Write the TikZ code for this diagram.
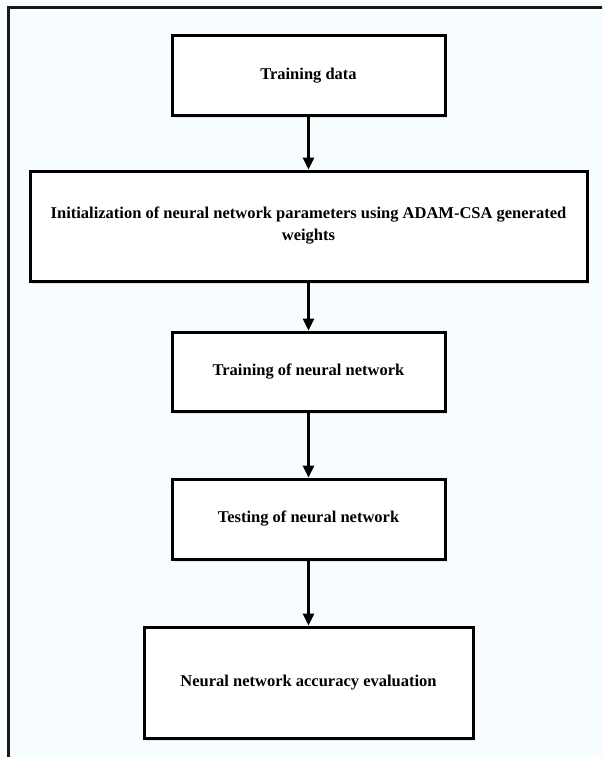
\documentclass[tikz,border=0pt]{standalone}
\usepackage{fontspec}
\setmainfont{Liberation Serif}
\usetikzlibrary{arrows.meta,shadows}
\definecolor{bgcol}{RGB}{247,253,254}
\definecolor{shadowcol}{RGB}{214,226,240}
\begin{document}
\begin{tikzpicture}[x=1pt,y=-1pt,
  stepbox/.style={draw=black, line width=3pt, fill=white, align=center,
    inner sep=0pt, font=\fontsize{16.5}{22}\selectfont\bfseries,
    drop shadow={shadow xshift=1.5pt, shadow yshift=-2.5pt, fill=shadowcol, opacity=0.8}},
  flow/.style={line width=2.5pt, -{Triangle[length=12pt,width=11pt]}}]
\useasboundingbox (0,0) rectangle (602,757);
\fill[bgcol] (0,0) rectangle (602,757);
\begin{scope}
\clip (0,0) rectangle (602,757);
\draw[line width=3pt, black!90] (8,780) -- (8,8) -- (620,8);
\end{scope}
\node[stepbox, minimum width=273pt, minimum height=80pt] (b1) at (308.5,76) {Training data};
\node[stepbox, minimum width=557pt, minimum height=110pt] (b2) at (308.5,226)
  {Initialization of neural network parameters using ADAM-CSA generated\\weights};
\node[stepbox, minimum width=273pt, minimum height=79pt] (b3) at (308.5,371.5) {Training of neural network};
\node[stepbox, minimum width=273pt, minimum height=80pt] (b4) at (308.5,519) {Testing of neural network};
\node[stepbox, minimum width=329pt, minimum height=111pt] (b5) at (308.5,682.5) {Neural network accuracy evaluation};
\draw[flow] (b1.south) -- (b2.north);
\draw[flow] (b2.south) -- (b3.north);
\draw[flow] (b3.south) -- (b4.north);
\draw[flow] (b4.south) -- (b5.north);
\end{tikzpicture}
\end{document}
